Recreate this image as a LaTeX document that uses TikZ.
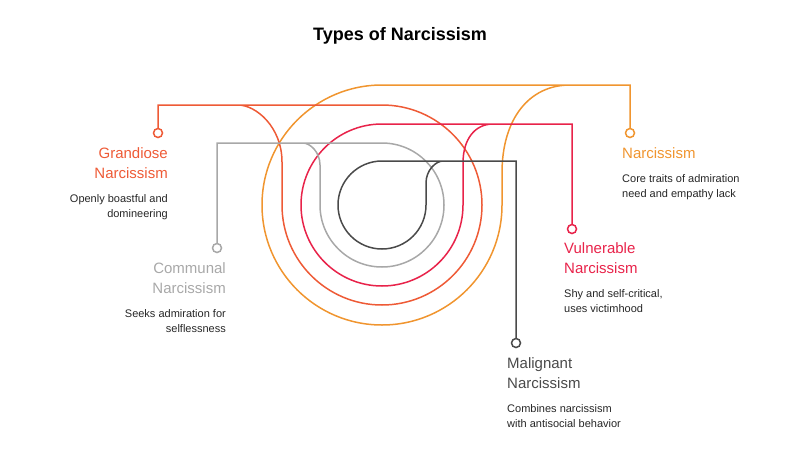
\documentclass[tikz,border=0pt]{standalone}
\usepackage{fontspec}
\setmainfont{Liberation Sans}
\definecolor{cgra}{HTML}{EE5A36}
\definecolor{cnar}{HTML}{F0952F}
\definecolor{cvul}{HTML}{E8234A}
\definecolor{ccom}{HTML}{A8A8A8}
\definecolor{cmal}{HTML}{4A4A4A}
\begin{document}
\begin{tikzpicture}[x=1pt,y=-1pt,
  ln/.style={line width=1.5pt},
  mk/.style={circle,draw,fill=white,line width=1.5pt,minimum size=9pt,inner sep=0},
  hd/.style={font=\fontsize{15}{20}\selectfont,inner sep=0},
  ds/.style={font=\fontsize{11}{15}\selectfont,inner sep=0,text=black!85}]
\useasboundingbox (0,0) rectangle (800,450);
\node[font=\fontsize{18}{22}\selectfont\bfseries,anchor=base] (title) at (400,40) {Types of Narcissism};
% markers
\node[mk,draw=cgra] (gra) at (158,133) {};
\node[mk,draw=ccom] (com) at (217,248) {};
\node[mk,draw=cvul] (vul) at (572,229) {};
\node[mk,draw=cnar] (nar) at (630,133) {};
\node[mk,draw=cmal] (mal) at (516,343) {};
% lines
\draw[ln,cnar] (nar.north) |- (382,85) arc[start angle=-90,end angle=-360,radius=120] -- (502,173) .. controls (502,119) and (529,85) .. (570,85);
\draw[ln,cgra] (gra.north) |- (382,105) arc[start angle=-90,end angle=180,radius=100] -- (282,162) .. controls (282,127) and (256,105) .. (238,105);
\draw[ln,cvul] (vul.north) |- (382,124) arc[start angle=-90,end angle=-360,radius=81] -- (463,163) .. controls (463,139) and (475,124) .. (493,124);
\draw[ln,ccom] (com.north) |- (382,143) arc[start angle=-90,end angle=180,radius=62] -- (320,165) .. controls (320,152) and (310,143) .. (303,143);
\draw[ln,cmal] (mal.north) |- (382,161) arc[start angle=-90,end angle=-360,radius=44] -- (426,183) .. controls (426,170) and (436,161) .. (443,161);
% texts
\node[hd,text=cgra,anchor=base east] (g1) at (168,158) {Grandiose};
\node[hd,text=cgra,anchor=base east] (g2) at (168,178) {Narcissism};
\node[ds,anchor=base east] (g3) at (168,202) {Openly boastful and};
\node[ds,anchor=base east] (g4) at (168,217) {domineering};
\node[hd,text=ccom,anchor=base east] (c1) at (226,273) {Communal};
\node[hd,text=ccom,anchor=base east] (c2) at (226,293) {Narcissism};
\node[ds,anchor=base east] (c3) at (226,317) {Seeks admiration for};
\node[ds,anchor=base east] (c4) at (226,332) {selflessness};
\node[hd,text=cnar,anchor=base west] (n1) at (622,158) {Narcissism};
\node[ds,anchor=base west] (n3) at (622,182) {Core traits of admiration};
\node[ds,anchor=base west] (n4) at (622,197) {need and empathy lack};
\node[hd,text=cvul,anchor=base west] (v1) at (564,253) {Vulnerable};
\node[hd,text=cvul,anchor=base west] (v2) at (564,273) {Narcissism};
\node[ds,anchor=base west] (v3) at (564,297) {Shy and self-critical,};
\node[ds,anchor=base west] (v4) at (564,312) {uses victimhood};
\node[hd,text=cmal,anchor=base west] (m1) at (507,368) {Malignant};
\node[hd,text=cmal,anchor=base west] (m2) at (507,388) {Narcissism};
\node[ds,anchor=base west] (m3) at (507,412) {Combines narcissism};
\node[ds,anchor=base west] (m4) at (507,427) {with antisocial behavior};
\end{tikzpicture}
\end{document}
